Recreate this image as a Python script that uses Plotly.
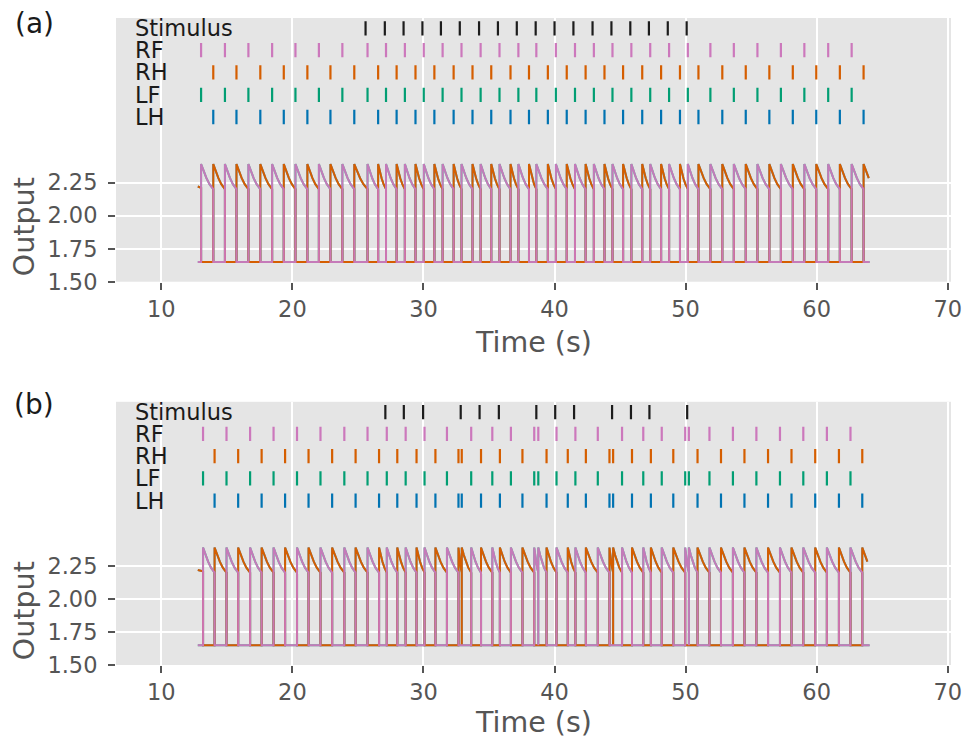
import plotly.graph_objects as go

# ---------------- data ----------------
# Panel (a): event times (s)
stim_a = [25.58, 27.05, 28.48, 29.92, 31.33, 32.77, 34.24, 35.68, 37.12, 38.56,
          40.00, 41.44, 42.90, 44.34, 45.78, 47.20, 48.64, 50.08]
rf_a = [13.03, 14.85, 16.64, 18.45, 20.23, 22.02, 23.81, 25.73, 27.14, 28.58,
        30.02, 31.46, 32.90, 34.36, 35.80, 37.24, 38.61, 40.10, 41.56, 43.00,
        44.42, 45.86, 47.30, 48.74, 50.17, 51.89, 53.68, 55.48, 57.27, 59.06,
        60.88, 62.67]
rh_a = [13.96, 15.73, 17.55, 19.34, 21.14, 22.90, 24.72, 26.54, 27.95, 29.39,
        30.83, 32.30, 33.74, 35.17, 36.64, 38.05, 39.49, 40.93, 42.37, 43.81,
        45.23, 46.69, 48.13, 49.57, 50.98, 52.80, 54.59, 56.39, 58.18, 59.97,
        61.77, 63.58]
lf_a = [13.03, 14.85, 16.64, 18.45, 20.23, 22.02, 23.81, 25.73, 27.14, 28.58,
        30.02, 31.46, 32.90, 34.36, 35.80, 37.24, 38.61, 40.10, 41.56, 43.00,
        44.42, 45.86, 47.30, 48.74, 50.17, 51.89, 53.68, 55.48, 57.27, 59.06,
        60.88, 62.67]
lh_a = [13.96, 15.73, 17.55, 19.34, 21.14, 22.90, 24.72, 26.54, 27.95, 29.39,
        30.83, 32.30, 33.74, 35.17, 36.64, 38.05, 39.49, 40.93, 42.37, 43.81,
        45.23, 46.69, 48.13, 49.57, 50.98, 52.80, 54.59, 56.39, 58.18, 59.97,
        61.77, 63.58]

# Panel (b): event times (s)
stim_b = [27.09, 28.50, 29.97, 32.84, 34.28, 35.75, 38.61, 40.05, 41.49, 44.39,
          45.83, 47.24, 50.12]
rf_b = [13.18, 14.97, 16.77, 18.56, 20.35, 22.14, 23.96, 25.73, 27.20, 28.64,
        30.08, 31.79, 33.64, 35.25, 36.67, 38.45, 38.76, 40.15, 41.59, 43.30,
        45.15, 46.77, 48.18, 49.97, 50.25, 51.82, 53.61, 55.40, 57.20, 58.98,
        60.78, 62.58]
rh_b = [14.06, 15.86, 17.65, 19.44, 21.23, 23.03, 24.82, 26.61, 28.00, 29.47,
        30.91, 32.67, 32.92, 34.39, 35.83, 37.55, 39.39, 41.01, 42.39, 44.19,
        44.47, 45.91, 47.35, 49.06, 50.91, 52.70, 54.49, 56.29, 58.08, 59.89,
        61.70, 63.48]
lf_b = [13.18, 14.97, 16.77, 18.56, 20.35, 22.14, 23.96, 25.73, 27.20, 28.64,
        30.08, 31.79, 33.64, 35.25, 36.67, 38.45, 38.76, 40.15, 41.59, 43.30,
        45.15, 46.77, 48.18, 49.97, 50.25, 51.82, 53.61, 55.40, 57.20, 58.98,
        60.78, 62.58]
lh_b = [14.06, 15.86, 17.65, 19.44, 21.23, 23.03, 24.82, 26.61, 28.00, 29.47,
        30.91, 32.67, 32.92, 34.39, 35.83, 37.55, 39.39, 41.01, 42.39, 44.19,
        44.47, 45.91, 47.35, 49.06, 50.91, 52.70, 54.49, 56.29, 58.08, 59.89,
        61.70, 63.48]

# Output pulse shape (fraction of pulse, output level)
pulse_frac = [0.0, 0.22, 0.44, 0.69, 0.94, 1.0]
pulse_level = [2.39, 2.333, 2.283, 2.238, 2.208, 2.20]
baseline_level = 1.65
trace_start = 12.78
trace_end = 64.04
start_level = [2.22, 2.21]   # hind outputs at trace start, and just before first drop

row_names = ["Stimulus", "RF", "RH", "LF", "LH"]
row_levels = [3.416, 3.252, 3.083, 2.914, 2.746]
y_ticks = [1.50, 1.75, 2.00, 2.25]
x_ticks = [10, 20, 30, 40, 50, 60, 70]

colors = {"Stimulus": "#1c1c1c", "RF": "#CC78BC", "RH": "#D55E00",
          "LF": "#029E73", "LH": "#0173B2"}

# ---------------- helpers ----------------
def raster(times, level, half=0.054):
    xs, ys = [], []
    for t in times:
        xs += [t, t, None]
        ys += [level - half, level + half, None]
    return xs, ys


def output_trace(own, partner, starts_high):
    if starts_high:
        first_p = partner[0]
        xs = [trace_start, first_p, first_p]
        ys = [start_level[0], start_level[1], baseline_level]
    else:
        xs = [trace_start]
        ys = [baseline_level]
    prev_dur = None
    for i, s in enumerate(own):
        nxt_own = own[i + 1] if i + 1 < len(own) else float("inf")
        later = [p for p in partner if p > s]
        nxt_p = later[0] if later else float("inf")
        end = min(nxt_own, nxt_p)
        truncated = end > trace_end
        dur = end - s if not truncated else (prev_dur or 0.9)
        xs += [s, s]
        ys += [baseline_level, pulse_level[0]]
        for f, v in zip(pulse_frac[1:], pulse_level[1:]):
            t = s + f * dur
            if t <= trace_end:
                xs.append(t)
                ys.append(v)
        if not truncated:
            xs.append(end)
            ys.append(baseline_level)
        prev_dur = dur
    if ys[-1] == baseline_level and xs[-1] < trace_end:
        xs.append(trace_end)
        ys.append(baseline_level)
    return xs, ys


fig = go.Figure()

panels = [
    ("x", "y", stim_a, rf_a, rh_a, lf_a, lh_a),
    ("x2", "y2", stim_b, rf_b, rh_b, lf_b, lh_b),
]

for xa, ya, stim, rf, rh, lf, lh in panels:
    ev = {"Stimulus": stim, "RF": rf, "RH": rh, "LF": lf, "LH": lh}
    # output traces (hind limbs start high)
    for name, own, partner, high, op in [("LH", lh, lf, True, 0.7),
                                         ("LF", lf, lh, False, 0.7),
                                         ("RH", rh, rf, True, 1.0),
                                         ("RF", rf, rh, False, 0.95)]:
        tx, ty = output_trace(own, partner, high)
        fig.add_trace(go.Scatter(x=tx, y=ty, mode="lines", xaxis=xa, yaxis=ya,
                                 line=dict(color=colors[name], width=2),
                                 opacity=op, showlegend=False, hoverinfo="skip"))
    # event rasters
    for name, lvl in zip(row_names, row_levels):
        rx, ry = raster(ev[name], lvl)
        fig.add_trace(go.Scatter(x=rx, y=ry, mode="lines", xaxis=xa, yaxis=ya,
                                 line=dict(color=colors[name], width=2.2),
                                 showlegend=False, hoverinfo="skip"))
        fig.add_annotation(x=7.8, y=lvl, xref=xa, yref=ya, text=name,
                           showarrow=False, xanchor="left", yanchor="middle",
                           font=dict(size=22.5, color="#1a1a1a",
                                     family="DejaVu Sans"))

axis_common = dict(
    range=[6.538, 70.25], tickvals=x_ticks, ticks="outside", ticklen=7,
    tickwidth=1.6, tickcolor="#555555", showgrid=True, gridcolor="white",
    gridwidth=1.8, zeroline=False, showline=False,
    tickfont=dict(size=22.5, color="#555555", family="DejaVu Sans"),
)
yaxis_common = dict(
    range=[1.5, 3.495], tickvals=y_ticks, ticktext=["1.50", "1.75", "2.00", "2.25"],
    ticks="outside", ticklen=7, tickwidth=1.6, tickcolor="#555555",
    showgrid=True, gridcolor="white", gridwidth=1.8, zeroline=False,
    showline=False, ticklabelstandoff=6,
    tickfont=dict(size=22.5, color="#555555", family="DejaVu Sans"),
)

# the page body adds an 8 px offset; the figure is sized to compensate
fig.update_layout(
    width=964, height=732,
    margin=dict(l=108, r=15, t=10, b=75),
    paper_bgcolor="white", plot_bgcolor="#E5E5E5",
    font=dict(family="DejaVu Sans"),
    xaxis=dict(domain=[0, 1], anchor="y", **axis_common),
    yaxis=dict(domain=[0.5924, 1.0], anchor="x", **yaxis_common),
    xaxis2=dict(domain=[0, 1], anchor="y2", **axis_common),
    yaxis2=dict(domain=[0.0, 0.4068], anchor="x2", **yaxis_common),
)

title_font = dict(size=28.5, color="#555555", family="DejaVu Sans")
for ytime, yout in [(0.4977, 0.6777), (-0.0881, 0.0842)]:
    fig.add_annotation(x=0.5, y=ytime, xref="paper", yref="paper", text="Time (s)",
                       showarrow=False, xanchor="center", yanchor="middle",
                       font=title_font)
    fig.add_annotation(x=-0.1094, y=yout, xref="paper", yref="paper", text="Output",
                       showarrow=False, xanchor="center", yanchor="middle",
                       textangle=-90, font=title_font)

for lbl, yy in [("(a)", 0.9922), ("(b)", 0.4034)]:
    fig.add_annotation(x=-0.0981, y=yy, xref="paper", yref="paper", text=lbl,
                       showarrow=False, xanchor="center", yanchor="middle",
                       font=dict(size=28, color="#1a1a1a", family="DejaVu Sans"))

fig.write_html("out.html")
